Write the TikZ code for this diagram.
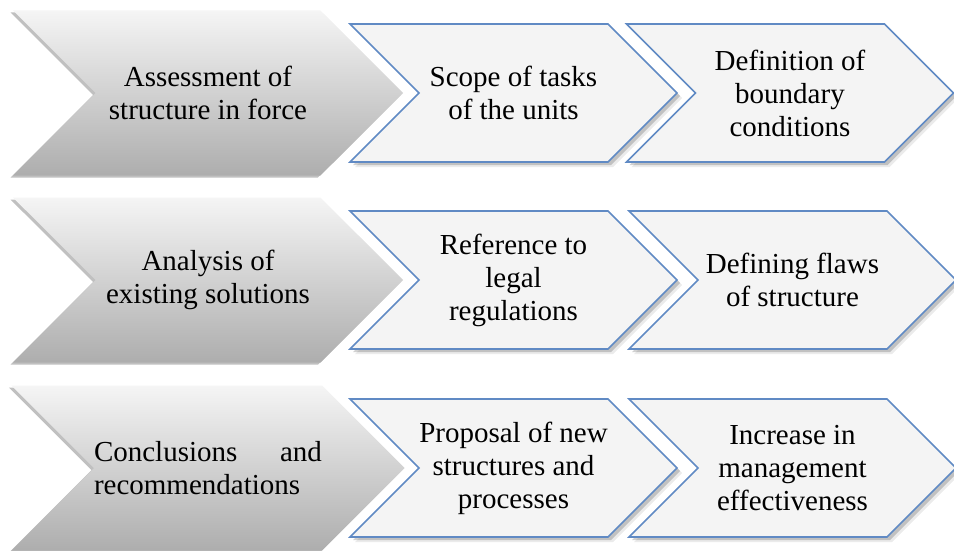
\documentclass[tikz,border=0pt]{standalone}
\usepackage{fontspec}
\setmainfont{Liberation Serif}
\usetikzlibrary{shapes.symbols}
\usetikzlibrary{shadows}
\usetikzlibrary{positioning}
\definecolor{taskline}{RGB}{96,138,196}
\definecolor{taskfill}{RGB}{244,244,244}
\tikzset{
    phase/.style={
           signal, signal from=west, signal to=east,
           signal pointer angle=90,
           minimum width=390pt, minimum height=165pt,
           inner sep=0pt, outer sep=0pt,
           top color=white!96!black, middle color=white!91!black,
           bottom color=white!68!black,
           drop shadow={shadow xshift=-2.5pt, shadow yshift=-2pt,
                        fill=white!55!black, opacity=0.55},
           font=\fontsize{29}{33}\selectfont,
           align=center,
           },
    task/.style={
           signal, signal from=west, signal to=east,
           signal pointer angle=90,
           draw=taskline, line width=1.6pt, fill=taskfill,
           minimum width=327pt, minimum height=138pt,
           inner sep=0pt, outer sep=0pt,
           % two soft layers for a blurred shadow
           drop shadow={shadow xshift=5pt, shadow yshift=-5pt,
                        fill=black, opacity=0.08},
           drop shadow={shadow xshift=3pt, shadow yshift=-3pt,
                        fill=black, opacity=0.18},
           font=\fontsize{29}{33}\selectfont,
           align=center,
           },
}

\begin{document}
\begin{tikzpicture}

 \useasboundingbox (0,0) rectangle (954pt,-551pt);

 % Row 1: first phase and its two tasks
 \node[phase] (ASSESS) at (208pt,-93pt)
 {Assessment of\\structure in force};

 \node[task,
  right of=ASSESS,	% next to the phase
  node distance=305.5pt] (SCOPE)
 {Scope of tasks\\of the units};

 \node[task,
  right of=SCOPE,
  node distance=276.5pt] (BOUNDARY)
 {Definition of\\boundary\\conditions};

 % Row 2
 \node[phase,
  below of=ASSESS,
  node distance=187pt] (ANALYSIS)
 {Analysis of\\existing solutions};

 \node[task,
  right of=ANALYSIS,
  node distance=305.5pt] (LEGAL)
 {Reference to\\legal\\regulations};

 \node[task,
  right of=LEGAL,
  node distance=279pt] (FLAWS)
 {Defining flaws\\of structure};

 % Row 3: first line spread over the full width
 \node[phase,
  below of=ANALYSIS,
  node distance=188pt,
  align=left] (CONCLUSIONS)
 {\makebox[228pt]{Conclusions\hfill and}\\recommendations};

 \node[task,
  right of=CONCLUSIONS,
  node distance=305.5pt] (PROPOSAL)
 {Proposal of new\\structures and\\processes};

 \node[task,
  right of=PROPOSAL,
  node distance=279pt] (EFFECT)
 {Increase in\\management\\effectiveness};

\end{tikzpicture}
\end{document}
